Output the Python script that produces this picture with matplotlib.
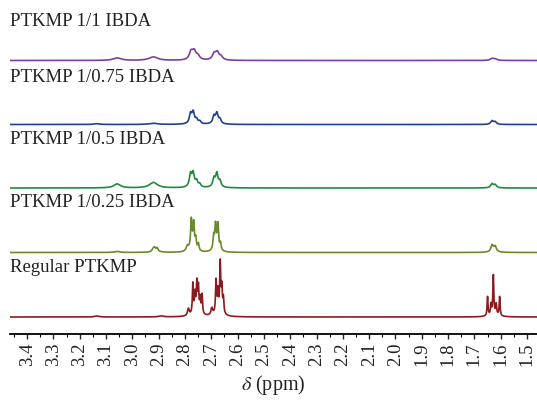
#!/usr/bin/env python3
"""
Stacked 1H NMR spectra (1.45-3.5 ppm) of regular PTKMP and the PTKMP/IBDA series.

Each trace is rebuilt from a table of resolved lines (shift, intensity, half width)
as a sum of Lorentzians and drawn with a vertical offset.
"""
import matplotlib
matplotlib.use("Agg")
import matplotlib.pyplot as plt
import matplotlib.transforms as mtransforms
from matplotlib.ticker import MultipleLocator
import numpy as np

# ── Data ───────────────────────────────────────────────────────────────

SAMPLES = ["PTKMP 1/1 IBDA", "PTKMP 1/0.75 IBDA", "PTKMP 1/0.5 IBDA",
           "PTKMP 1/0.25 IBDA", "Regular PTKMP"]
COLORS = ["#7b3f9e", "#22408e", "#1f8a40", "#6b8a2c", "#8b1b1e"]
OFFSETS = [256.5, 192.5, 129.0, 64.5, 0.0]
LABEL_Y = [296, 241, 178, 115, 50]

# (shift / ppm, intensity, half width / ppm)
LINES_1_1 = [
    (3.058, 2.5, 0.018), (2.920, 3.5, 0.020),
    (2.777, 8.0, 0.008), (2.765, 8.0, 0.008), (2.751, 4.0, 0.008),
    (2.689, 6.0, 0.008), (2.677, 7.0, 0.008), (2.663, 3.0, 0.008),
    (1.633, 1.8, 0.008), (1.621, 1.4, 0.008),
]
LINES_1_075 = [
    (3.136, 0.8, 0.012), (2.920, 1.2, 0.018),
    (2.779, 9.0, 0.005), (2.769, 10.0, 0.005), (2.756, 4.0, 0.005), (2.744, 2.5, 0.005),
    (2.690, 7.0, 0.005), (2.679, 9.0, 0.005), (2.667, 4.0, 0.005),
    (2.771, 2.0, 0.014), (2.680, 2.0, 0.014),
    (1.633, 3.5, 0.006), (1.621, 2.5, 0.006),
]
LINES_1_05 = [
    (3.058, 4.0, 0.015), (2.920, 5.5, 0.018),
    (2.779, 12.0, 0.005), (2.769, 12.0, 0.005), (2.756, 5.5, 0.005), (2.744, 3.0, 0.005),
    (2.690, 8.0, 0.005), (2.679, 12.0, 0.005), (2.667, 5.5, 0.005),
    (2.771, 2.0, 0.014), (2.680, 2.0, 0.014),
    (1.633, 4.0, 0.006), (1.621, 3.0, 0.006),
]
LINES_1_025 = [
    (3.058, 1.0, 0.012),
    (2.922, 2.0, 0.004), (2.916, 3.5, 0.004), (2.906, 3.0, 0.004), (2.911, 1.5, 0.015),
    (2.791, 5.0, 0.005),
    (2.776, 28.0, 0.003), (2.767, 25.0, 0.003), (2.759, 11.0, 0.003), (2.749, 7.0, 0.003),
    (2.691, 13.0, 0.003), (2.684, 23.0, 0.003), (2.675, 24.0, 0.003), (2.665, 7.0, 0.003),
    (2.773, 4.0, 0.012), (2.680, 4.0, 0.012),
    (1.633, 6.0, 0.005), (1.621, 4.5, 0.005), (1.626, 2.0, 0.012),
]
LINES_REGULAR = [
    (3.136, 1.0, 0.010), (2.891, 1.0, 0.010),
    (2.787, 7.0, 0.004),
    (2.770, 30.0, 0.0022), (2.762, 18.0, 0.0022), (2.755, 28.0, 0.0022),
    (2.749, 24.0, 0.0022), (2.742, 14.0, 0.0022), (2.735, 19.0, 0.0022),
    (2.698, 7.0, 0.004),
    (2.682, 32.0, 0.0022), (2.675, 20.0, 0.0022), (2.666, 48.0, 0.0022),
    (2.660, 24.0, 0.0022), (2.654, 15.0, 0.0022),
    (2.754, 5.0, 0.015), (2.670, 5.0, 0.015),
    (1.650, 19.0, 0.0020), (1.637, 10.0, 0.0020), (1.628, 38.0, 0.0020),
    (1.617, 10.0, 0.0020), (1.604, 19.0, 0.0020), (1.626, 3.5, 0.015),
]
SPECTRA = [LINES_1_1, LINES_1_075, LINES_1_05, LINES_1_025, LINES_REGULAR]

XLIM = (3.465, 1.462)

# ── Helpers ────────────────────────────────────────────────────────────

def lorentz_sum(ppm, lines):
    y = np.zeros_like(ppm)
    for x0, h, w in lines:
        y += h * w**2 / ((ppm - x0) ** 2 + w**2)
    return y


# ── Plotting ───────────────────────────────────────────────────────────

plt.rcParams["font.family"] = ["Liberation Serif", "DejaVu Serif"]
plt.rcParams["mathtext.fontset"] = "stix"

fig = plt.figure(figsize=(5.37, 4.02), dpi=100)
ax = fig.add_axes([10 / 537, 67 / 402, 527 / 537, 335 / 402])

ppm = np.linspace(XLIM[0], XLIM[1], 6000)
for name, color, off, ly, lines in zip(SAMPLES, COLORS, OFFSETS, LABEL_Y, SPECTRA):
    ax.plot(ppm, off + lorentz_sum(ppm, lines), color=color, linewidth=1.2)
    trans = mtransforms.blended_transform_factory(ax.transAxes, ax.transData)
    ax.text(0.0, ly, name, transform=trans, fontsize=13.5, color="#222222",
            ha="left", va="center")

ax.set_xlim(*XLIM)
ax.set_ylim(-17, 318)
ax.xaxis.set_major_locator(MultipleLocator(0.1))
ax.xaxis.set_minor_locator(MultipleLocator(0.05))
ax.tick_params(axis="x", which="major", direction="out", length=3.5, width=1.0,
               labelsize=13.5, labelrotation=90, pad=2, colors="#222222")
ax.tick_params(axis="x", which="minor", direction="out", length=2, width=0.8)
ax.set_yticks([])
for side in ("top", "right", "left"):
    ax.spines[side].set_visible(False)
ax.spines["bottom"].set_linewidth(1.3)
ax.set_xlabel(r"$\delta$ (ppm)", fontsize=14.5, color="#222222", labelpad=5)

fig.savefig("out.png", dpi=100)
